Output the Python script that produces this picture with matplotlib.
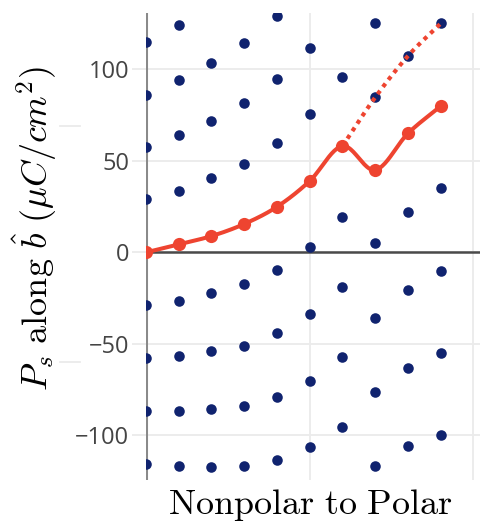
import numpy as np
import matplotlib
matplotlib.use("Agg")
import matplotlib.pyplot as plt
from matplotlib.lines import Line2D

plt.rcParams["mathtext.fontset"] = "cm"

# Structural steps from the nonpolar to the polar phase
steps = list(range(10))

# Polarization lattice (all branches) at each step, in uC/cm^2
lattice = [
    [115.2, 86.1, 57.8, 29.0, 0.0, -29.0, -58.0, -86.6, -115.4],
    [124.2, 94.2, 64.1, 33.7, 4.4, -26.4, -56.5, -86.6, -116.6],
    [103.6, 71.9, 40.4, 8.9, -22.4, -53.8, -85.6, -117.5],
    [114.2, 81.4, 48.3, 15.5, -17.5, -51.0, -83.8, -116.8],
    [129.1, 94.5, 59.9, 24.9, -9.7, -44.3, -78.9, -113.5],
    [111.8, 75.6, 39.0, 2.7, -33.7, -70.2, -106.6],
    [95.6, 58.1, 19.1, -19.1, -57.4, -95.6],
    [125.5, 84.7, 45.0, 4.9, -36.1, -76.5, -116.8],
    [107.3, 65.0, 22.2, -20.6, -63.4, -105.8],
    [125.1, 79.9, 35.0, -10.1, -55.2, -99.8],
]

# Branch followed along the path
path_steps = steps
path_values = [0.0, 4.4, 8.9, 15.5, 24.9, 39.0, 58.1, 45.0, 65.0, 79.9]

# Continuous branch beyond the kink
cont_steps = [6, 7, 8, 9]
cont_values = [58.1, 84.7, 107.3, 125.1]

y_ticks = [-100, -50, 0, 50, 100]
y_tick_labels = ["\u2212100", "\u221250", "0", "50", "100"]

NAVY = "#10236f"
RED = "#ee4430"
GRID = "#ebebeb"


def smooth(xs, ys, n=24):
    """Catmull-Rom curve through the given points (for the line shape)."""
    p = np.column_stack([xs, ys]).astype(float)
    p = np.vstack([2 * p[0] - p[1], p, 2 * p[-1] - p[-2]])
    out = []
    for i in range(1, len(p) - 2):
        p0, p1, p2, p3 = p[i - 1], p[i], p[i + 1], p[i + 2]
        t = np.linspace(0, 1, n, endpoint=(i == len(p) - 3))[:, None]
        seg = 0.5 * ((2 * p1) + (-p0 + p2) * t
                     + (2 * p0 - 5 * p1 + 4 * p2 - p3) * t ** 2
                     + (-p0 + 3 * p1 - 3 * p2 + p3) * t ** 3)
        out.append(seg)
    out = np.vstack(out)
    return out[:, 0], out[:, 1]


fig = plt.figure(figsize=(4.8, 5.25), dpi=100)
ax = fig.add_axes([146 / 480, 45 / 525, 334 / 480, 467 / 525])

ax.set_xlim(0, 10.2)
ax.set_ylim(-124.4, 130.8)

# grid
ax.set_yticks(y_ticks)
ax.set_xticks([5, 10])
ax.grid(True, color=GRID, linewidth=1.3, zorder=0)
ax.set_axisbelow(True)
for s in ax.spines.values():
    s.set_visible(False)

ax.axhline(0, color="#4a4a4a", linewidth=1.8, zorder=1)
ax.axvline(0, color="#8a8a8a", linewidth=2.2, zorder=1)

# lattice points
for x, vals in zip(steps, lattice):
    ax.plot([x] * len(vals), vals, "o", color=NAVY, markersize=7.6,
            markeredgewidth=0, zorder=3)

# continuous branch (dotted)
cx, cy = smooth(cont_steps, cont_values)
ax.plot(cx, cy, color=RED, linewidth=3.0, linestyle=(0, (1, 1.15)),
        dash_capstyle="butt", zorder=4)

# followed path
sx, sy = smooth(path_steps, path_values)
ax.plot(sx, sy, color=RED, linewidth=2.9, zorder=5, solid_capstyle="round")
ax.plot(path_steps, path_values, "o", color=RED, markersize=9.5,
        markeredgewidth=0, zorder=6)

# ticks
ax.tick_params(axis="y", length=10, width=1.3, color=GRID, pad=2,
               labelsize=17, labelcolor="#444444")
ax.tick_params(axis="x", length=0, labelbottom=False)
ax.set_yticklabels(y_tick_labels, family="Open Sans")
for t, v in zip(ax.yaxis.get_major_ticks(), y_ticks):
    if v == 0:
        t.tick1line.set_color("#4a4a4a")

fig.text(35 / 480, 1 - 228 / 525,
         r"$P_s\ \mathrm{along}\ \hat{b}\ (\mu C/cm^2)$",
         rotation=90, ha="center", va="center", fontsize=26)
fig.text(310 / 480, 1 - 505 / 525, r"$\mathrm{Nonpolar\ to\ Polar}$",
         ha="center", va="center", fontsize=26)

# faint marks left of the label
for ypx in (126, 362):
    fig.add_artist(Line2D([60 / 480, 80 / 480], [1 - ypx / 525] * 2,
                          color=GRID, linewidth=1.3, zorder=0))

fig.savefig("out.png", dpi=100)
